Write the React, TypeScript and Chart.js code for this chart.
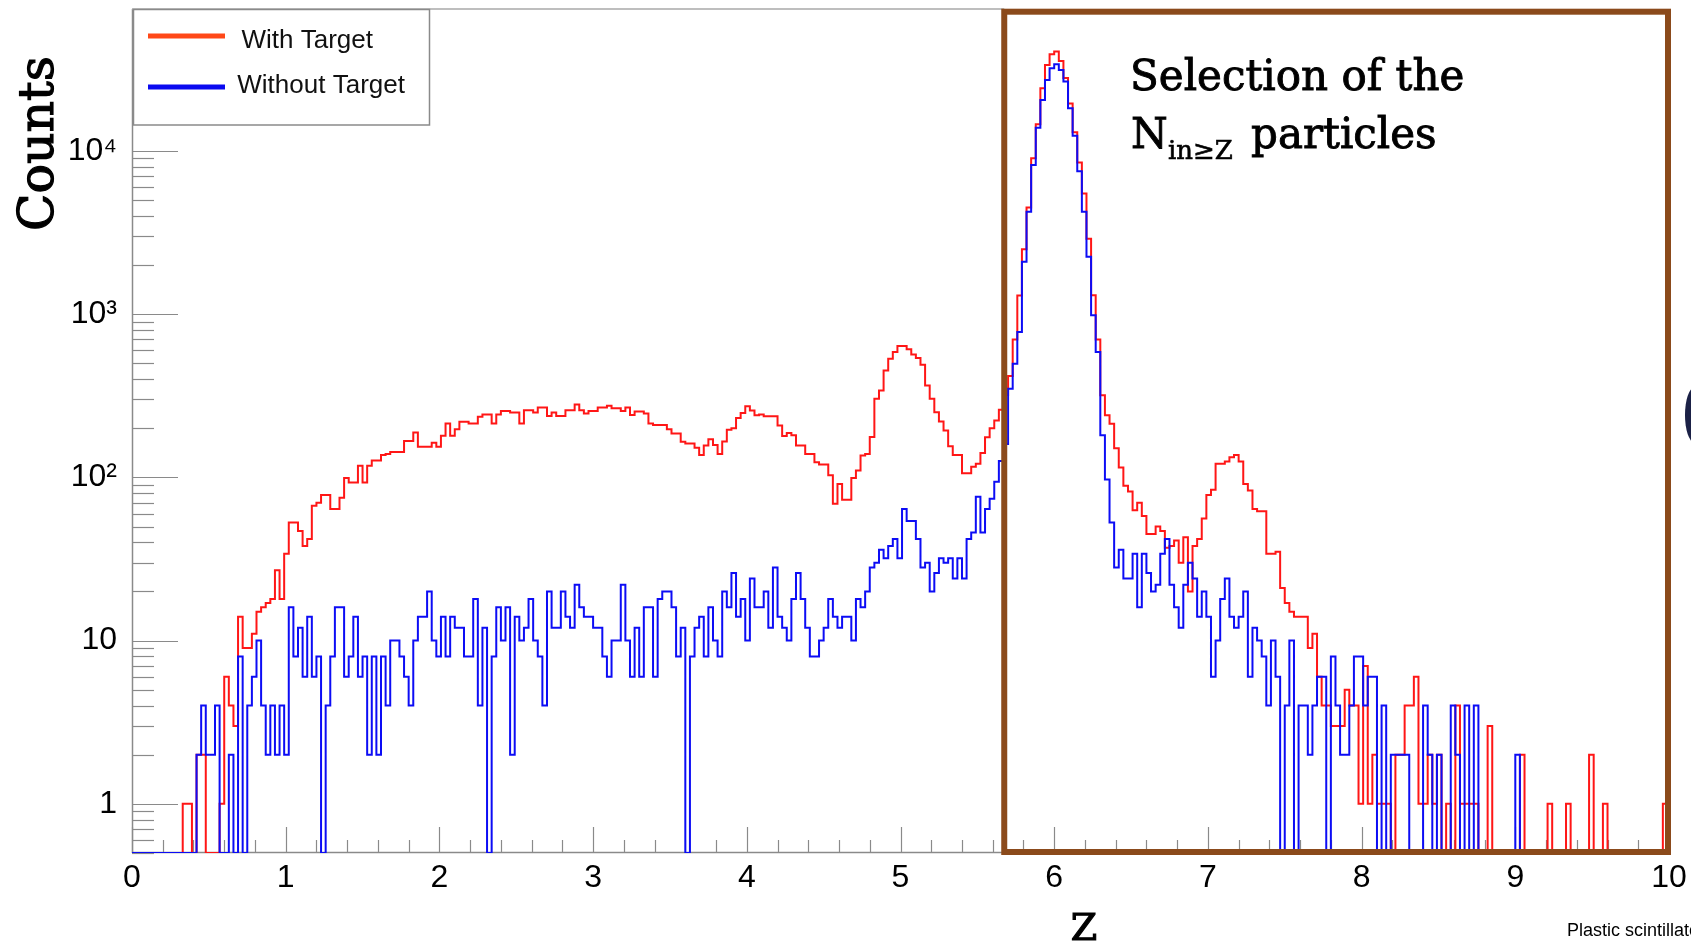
import React, { useEffect, useRef } from 'react';
import { Chart, registerables } from 'chart.js';

Chart.register(...registerables);

// ---------------- data ----------------
const BIN_WIDTH = 0.03;
const X_MIN = 0;
const X_MAX = 10;
const X_LABEL_TICKS = [0, 1, 2, 3, 4, 5, 6, 7, 8, 9, 10];
const X_MINOR_STEP = 0.2;
const Y_MIN = 0.5;
const Y_MAX = 74000;
const Y_DECADES = [1, 10, 100, 1000, 10000];
const Y_DECADE_LABELS = ['1', '10', '10\u00B2', '10\u00B3', '10\u2074'];
const SERIES_LABELS = ['With Target', 'Without Target'];
const SELECTION_FROM = 5.675;
const X_TITLE = 'Z';
const Y_TITLE = 'Counts';
const NOTE_LINE1 = 'Selection of the';
const NOTE_N = 'N';
const NOTE_SUB = 'in\u2265Z';
const NOTE_REST = 'particles';
const FOOTER = 'Plastic scintillator';

// counts per bin (bin width 0.03, first bin starts at Z = 0)
const withTarget = [
  0, 0, 0, 0, 0, 0, 0, 0, 0, 0,
  0, 1, 1, 0, 2, 2, 0, 0, 0, 1,
  6, 4, 3, 14, 9, 9, 11, 15, 16, 17,
  18, 27, 18, 34, 53, 53, 47, 38, 42, 67,
  70, 78, 78, 64, 64, 75, 99, 93, 93, 118,
  93, 118, 127, 127, 137, 139, 143, 143, 143, 167,
  167, 188, 154, 154, 154, 163, 154, 180, 214, 180,
  197, 219, 219, 214, 214, 235, 243, 243, 214, 243,
  255, 255, 250, 250, 214, 258, 258, 250, 268, 268,
  238, 250, 238, 238, 258, 258, 280, 258, 246, 255,
  255, 268, 268, 275, 265, 265, 255, 268, 241, 253,
  253, 246, 214, 209, 209, 209, 197, 186, 186, 165,
  161, 161, 152, 137, 157, 171, 158, 139, 166, 196,
  200, 231, 248, 273, 257, 240, 243, 237, 237, 237,
  208, 179, 187, 181, 157, 157, 139, 139, 124, 120,
  120, 103, 69, 91, 73, 73, 99, 110, 136, 139,
  177, 303, 341, 452, 533, 586, 638, 638, 609, 565,
  538, 490, 366, 303, 251, 220, 194, 155, 137, 137,
  106, 106, 116, 121, 141, 176, 200, 223, 260, 320,
  418, 700, 1300, 2500, 4500, 9000, 14550, 24170, 33630, 39080,
  40580, 35590, 28000, 19500, 13000, 8500, 5486, 2900, 1305, 700,
  318, 240, 213, 151, 115, 89, 82, 63, 70, 58,
  45, 45, 50, 47, 37, 38, 41, 30, 43, 20,
  38, 42, 56, 78, 84, 121, 121, 125, 133, 137,
  125, 91, 83, 64, 62, 62, 34, 34, 35, 21,
  17, 15, 14, 14, 14, 9, 11, 6, 4, 4,
  3, 3, 3, 5, 4, 4, 1, 7, 1, 2,
  1, 1, 1, 0, 2, 2, 4, 4, 6, 1,
  1, 2, 1, 2, 0, 1, 0, 4, 1, 1,
  1, 1, 0, 0, 3, 0, 0, 0, 0, 0,
  0, 2, 0, 0, 0, 0, 0, 1, 0, 0,
  0, 1, 0, 0, 0, 0, 2, 0, 0, 1,
  0, 0, 0, 0, 0, 0, 0, 0, 0, 0,
  0, 0, 1, 0,
];

const withoutTarget = [
  0, 0, 0, 0, 0, 0, 0, 0, 0, 0,
  0, 0, 0, 0, 2, 4, 2, 2, 4, 0,
  0, 2, 0, 8, 0, 4, 6, 10, 4, 2,
  4, 2, 4, 2, 16, 8, 12, 6, 14, 6,
  8, 0, 4, 8, 16, 16, 6, 8, 14, 6,
  8, 2, 8, 2, 8, 4, 10, 10, 8, 6,
  4, 10, 14, 14, 20, 10, 8, 14, 8, 14,
  12, 12, 8, 8, 18, 4, 12, 0, 8, 16,
  10, 16, 2, 14, 10, 12, 18, 10, 8, 4,
  20, 12, 12, 20, 14, 12, 22, 16, 14, 14,
  12, 12, 8, 6, 10, 10, 22, 10, 6, 12,
  6, 16, 16, 6, 18, 20, 20, 16, 8, 12,
  0, 8, 12, 14, 8, 16, 10, 8, 20, 16,
  26, 14, 18, 10, 24, 16, 16, 20, 12, 28,
  14, 12, 10, 18, 26, 18, 12, 8, 8, 10,
  12, 18, 14, 12, 14, 14, 10, 18, 16, 20,
  28, 30, 36, 32, 38, 42, 32, 64, 54, 54,
  42, 28, 30, 20, 26, 32, 30, 32, 24, 32,
  24, 42, 46, 76, 46, 64, 74, 94, 126, 160,
  349, 497, 778, 2090, 4236, 8185, 13870, 20510, 27190, 32080,
  33960, 31330, 26570, 18230, 12390, 7516, 4236, 2244, 984, 586,
  181, 97, 53, 28, 36, 24, 24, 34, 16, 34,
  26, 20, 22, 34, 42, 22, 16, 12, 22, 30,
  24, 14, 20, 14, 6, 10, 18, 24, 14, 12,
  14, 20, 6, 12, 10, 8, 4, 10, 6, 0,
  4, 10, 0, 4, 4, 2, 4, 6, 6, 0,
  8, 4, 2, 2, 4, 8, 8, 4, 6, 6,
  0, 4, 0, 2, 2, 2, 2, 0, 0, 0,
  4, 2, 0, 2, 0, 0, 4, 2, 0, 4,
  0, 4, 0, 0, 0, 0, 0, 0, 0, 0,
  2, 0, 0, 0, 0, 0, 0, 0, 0, 0,
  0, 0, 0, 0, 0, 0, 0, 0, 0, 0,
  0, 0, 0, 0, 0, 0, 0, 0, 0, 0,
  0, 0, 0, 0,
];

// ---------------- styles ----------------
const SANS = "'Liberation Sans', Arial, Helvetica, sans-serif";
const SERIF = "'DejaVu Serif', 'Liberation Serif', serif";
const RED = 'rgb(255, 22, 22)';
const BLUE = 'rgb(12, 12, 245)';
const LEGEND_RED = 'rgb(255, 72, 24)';
const LEGEND_BLUE = 'rgb(10, 10, 240)';
const AXIS_GREY = '#8a8a8a';
const BROWN = '#8b4a1b';

function toSteps(values: number[]) {
  const floorValue = (v: number) => (v > 0 ? v : Y_MIN);
  const pts = values.map((v, i) => ({ x: X_MIN + i * BIN_WIDTH, y: floorValue(v) }));
  pts.push({ x: X_MIN + values.length * BIN_WIDTH, y: floorValue(values[values.length - 1]) });
  return pts;
}

function line(ctx: CanvasRenderingContext2D, x1: number, y1: number, x2: number, y2: number) {
  ctx.beginPath();
  ctx.moveTo(x1, y1);
  ctx.lineTo(x2, y2);
  ctx.stroke();
}

function boldText(ctx: CanvasRenderingContext2D, text: string, x: number, y: number, w: number) {
  ctx.fillText(text, x, y);
  ctx.lineWidth = w;
  ctx.strokeText(text, x, y);
}

const decorations = {
  id: 'decorations',
  beforeDatasetsDraw(chart: any) {
    const { ctx, chartArea: a, scales } = chart;
    const x = scales.x;
    const y = scales.y;
    ctx.save();
    ctx.strokeStyle = AXIS_GREY;
    ctx.lineWidth = 1.2;
    for (const t of y.ticks) {
      const py = Math.round(y.getPixelForValue(t.value)) + 0.5;
      line(ctx, a.left, py, a.left + (t.major ? 46 : 22), py);
    }
    for (const t of x.ticks) {
      const px = Math.round(x.getPixelForValue(t.value)) + 0.5;
      const major = X_LABEL_TICKS.includes(t.value);
      line(ctx, px, a.bottom, px, a.bottom - (major ? 26 : 13));
    }
    ctx.lineWidth = 1.5;
    line(ctx, a.left + 0.5, a.top, a.left + 0.5, a.bottom);
    line(ctx, a.left, a.bottom - 0.5, a.right, a.bottom - 0.5);
    ctx.strokeStyle = '#a8a8a8';
    line(ctx, a.left, a.top, x.getPixelForValue(SELECTION_FROM), a.top);
    ctx.restore();
  },
  afterDatasetsDraw(chart: any) {
    const { ctx, chartArea: a, scales } = chart;
    const x = scales.x;
    ctx.save();

    // selection box
    const bx1 = x.getPixelForValue(SELECTION_FROM);
    const bx2 = x.getPixelForValue(X_MAX) - 1;
    ctx.strokeStyle = BROWN;
    ctx.lineWidth = 6;
    ctx.strokeRect(bx1, 11.7, bx2 - bx1, a.bottom - 1 - 11.7);

    // legend
    ctx.fillStyle = '#fff';
    ctx.fillRect(133.5, 9.5, 296, 115.5);
    ctx.strokeStyle = AXIS_GREY;
    ctx.lineWidth = 1.5;
    ctx.strokeRect(133.5, 9.5, 296, 115.5);
    ctx.lineWidth = 5;
    ctx.strokeStyle = LEGEND_RED;
    line(ctx, 148, 36, 225, 36);
    ctx.strokeStyle = LEGEND_BLUE;
    line(ctx, 148, 87, 225, 87);
    ctx.fillStyle = '#111';
    ctx.font = `26px ${SANS}`;
    ctx.textAlign = 'left';
    ctx.textBaseline = 'alphabetic';
    ctx.fillText(SERIES_LABELS[0], 241.5, 48.3);
    ctx.fillText(SERIES_LABELS[1], 237.3, 93.3);

    // annotation text
    ctx.fillStyle = '#000';
    ctx.strokeStyle = '#000';
    ctx.font = `42px ${SERIF}`;
    boldText(ctx, NOTE_LINE1, 1130, 90, 0.9);
    boldText(ctx, NOTE_N, 1131, 148, 0.9);
    ctx.font = `26px ${SERIF}`;
    boldText(ctx, NOTE_SUB, 1168, 159, 0.6);
    ctx.font = `42px ${SERIF}`;
    boldText(ctx, NOTE_REST, 1251, 148, 0.9);

    // axis titles
    ctx.font = `38px ${SERIF}`;
    ctx.textAlign = 'center';
    boldText(ctx, X_TITLE, 1084, 940, 1.2);
    ctx.save();
    ctx.translate(53, 231);
    ctx.rotate(-Math.PI / 2);
    ctx.textAlign = 'left';
    ctx.font = `49px ${SERIF}`;
    boldText(ctx, Y_TITLE, 0, 0, 1.2);
    ctx.restore();

    // footer
    ctx.textAlign = 'left';
    ctx.font = `18px ${SANS}`;
    ctx.fillText(FOOTER, 1567, 936);

    // partially visible slide element at right edge
    ctx.fillStyle = '#1b2146';
    ctx.beginPath();
    ctx.ellipse(1694, 415, 9, 27, 0, 0, Math.PI * 2);
    ctx.fill();

    ctx.restore();
  },
};

export default function App() {
  const canvasRef = useRef<HTMLCanvasElement | null>(null);

  useEffect(() => {
    const canvas = canvasRef.current;
    if (!canvas) return;
    const chart = new Chart(canvas, {
      type: 'line',
      data: {
        datasets: [
          {
            label: SERIES_LABELS[0],
            data: toSteps(withTarget),
            borderColor: RED,
            borderWidth: 2,
            pointRadius: 0,
            fill: false,
            stepped: 'before',
            order: 1,
          },
          {
            label: SERIES_LABELS[1],
            data: toSteps(withoutTarget),
            borderColor: BLUE,
            borderWidth: 2,
            pointRadius: 0,
            fill: false,
            stepped: 'before',
            order: 0,
          },
        ],
      },
      options: {
        animation: false,
        responsive: false,
        devicePixelRatio: 1,
        layout: { padding: { top: 9, right: 22, left: 0, bottom: 0 } },
        plugins: {
          legend: { display: false },
          tooltip: { enabled: false },
        },
        scales: {
          x: {
            type: 'linear',
            min: X_MIN,
            max: X_MAX,
            grid: { display: false, drawTicks: false },
            border: { display: false },
            afterBuildTicks: (s: any) => {
              const n = Math.round((X_MAX - X_MIN) / X_MINOR_STEP);
              const ticks = [];
              for (let k = 0; k <= n; k++) ticks.push({ value: +(X_MIN + k * X_MINOR_STEP).toFixed(6) });
              s.ticks = ticks;
            },
            afterFit: (s: any) => {
              s.height = 92;
              s.paddingLeft = 0;
              s.paddingRight = 0;
            },
            ticks: {
              autoSkip: false,
              maxRotation: 0,
              minRotation: 0,
              padding: 6,
              color: '#000',
              font: { family: SANS, size: 32 },
              callback: (v: any) => (X_LABEL_TICKS.includes(v) ? String(v) : ''),
            },
          },
          y: {
            type: 'logarithmic',
            min: Y_MIN,
            max: Y_MAX,
            grid: { display: false, drawTicks: false },
            border: { display: false },
            afterBuildTicks: (s: any) => {
              const ticks = [];
              for (let e = -1; e <= 4; e++) {
                for (let m = 1; m <= 9; m++) {
                  const v = m * Math.pow(10, e);
                  if (v >= Y_MIN * 0.999 && v <= Y_MAX) ticks.push({ value: v, major: m === 1 });
                }
              }
              s.ticks = ticks;
            },
            afterFit: (s: any) => {
              s.width = 132;
              s.paddingTop = 0;
              s.paddingBottom = 0;
            },
            ticks: {
              autoSkip: false,
              padding: 15,
              color: '#000',
              font: { family: SANS, size: 32 },
              callback: (v: any) => {
                const i = Y_DECADES.indexOf(Number(v));
                return i >= 0 ? Y_DECADE_LABELS[i] : '';
              },
            },
          },
        },
      },
      plugins: [decorations],
    });
    return () => chart.destroy();
  }, []);

  return (
    <div style={{ position: 'fixed', left: 0, top: 0, width: 1691, height: 945, background: '#fff' }}>
      <canvas ref={canvasRef} width={1691} height={945} style={{ display: 'block', width: 1691, height: 945 }} />
    </div>
  );
}
